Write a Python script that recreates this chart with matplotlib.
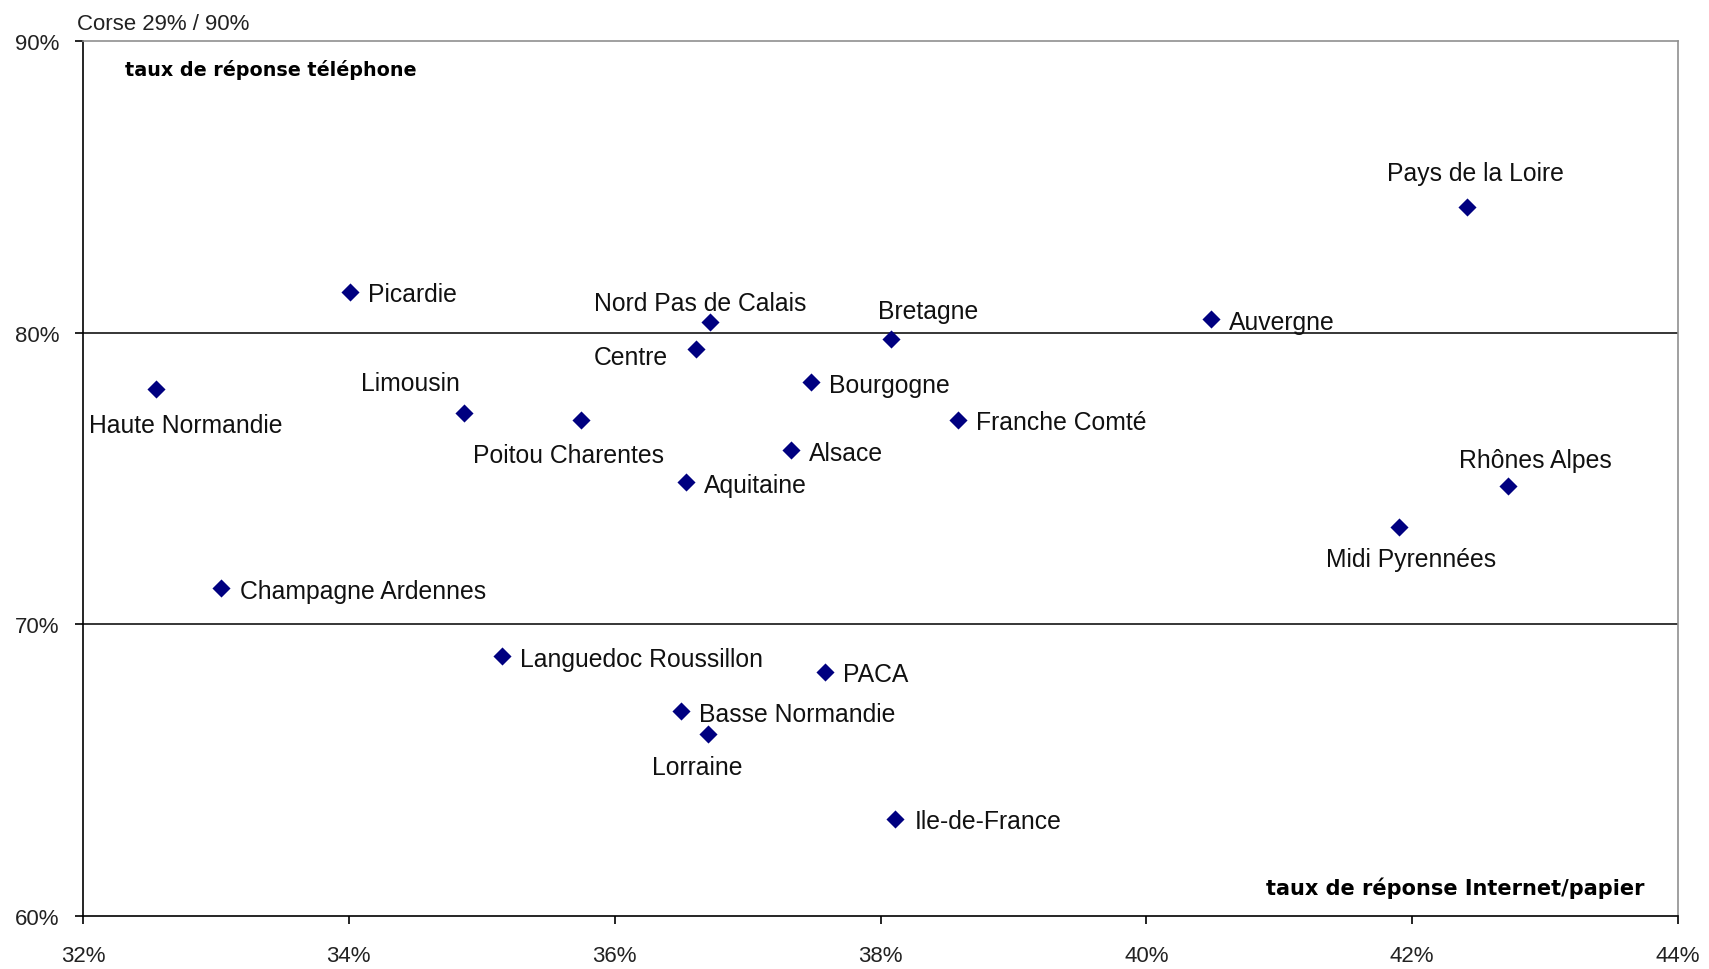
import matplotlib
matplotlib.use('Agg')
import matplotlib.pyplot as plt
from matplotlib.ticker import FuncFormatter

# taux de réponse par région (%)
regions = ['Pays de la Loire', 'Picardie', 'Nord Pas de Calais', 'Centre', 'Bretagne',
           'Bourgogne', 'Poitou Charentes', 'Franche Comté', 'Alsace', 'Aquitaine',
           'Auvergne', 'Haute Normandie', 'Limousin', 'Rhônes Alpes', 'Midi Pyrennées',
           'Champagne Ardennes', 'Languedoc Roussillon', 'PACA', 'Basse Normandie',
           'Lorraine', 'Ile-de-France']
internet = [42.41, 34.01, 36.72, 36.61, 38.08,
            37.48, 35.75, 38.58, 37.33, 36.54,
            40.49, 32.55, 34.87, 42.72, 41.90,
            33.04, 35.15, 37.58, 36.50,
            36.70, 38.11]
telephone = [84.32, 81.41, 80.36, 79.44, 79.78,
             78.30, 77.02, 77.02, 75.98, 74.87,
             80.47, 78.07, 77.25, 74.73, 73.35,
             71.23, 68.91, 68.38, 67.03,
             66.25, 63.34]

x_ticks = [32, 34, 36, 38, 40, 42, 44]
y_ticks = [60, 70, 80, 90]

# label placement in pixels: (dx, dy down, ha)
label_pos = [(9, -27, 'center'), (18, 9.6, 'left'), (-10, -12.6, 'center'), (-28, 15, 'right'),
             (37, -20.7, 'center'), (18, 9.6, 'left'), (-13, 42, 'center'), (18, 9.6, 'left'),
             (18, 9.6, 'left'), (18, 9.6, 'left'), (17, 9.6, 'left'), (-66.7, 43.3, 'left'),
             (-5, -23.3, 'right'), (28, -19.6, 'center'), (12, 39, 'center'),
             (19, 9.6, 'left'), (18, 9.6, 'left'), (18, 9.6, 'left'), (17.5, 9.6, 'left'),
             (-10, 40, 'center'), (19.5, 9.6, 'left')]

label_font = 'Liberation Sans'

fig = plt.figure(figsize=(17.09, 9.70), dpi=100)
ax = fig.add_axes([83 / 1709, 1 - 917 / 970, 1595 / 1709, 875 / 970])

ax.set_xlim(32, 44)
ax.set_ylim(60, 90)
ax.set_xticks(x_ticks)
ax.set_yticks(y_ticks)
pct = FuncFormatter(lambda v, p: f'{v:.0f}%')
ax.xaxis.set_major_formatter(pct)
ax.yaxis.set_major_formatter(pct)

for y in [70, 80]:
    ax.axhline(y, color='black', linewidth=1.1, zorder=1)

ax.scatter(internet, telephone, marker='D', s=85, color='#000080', zorder=3, linewidths=0)

for name, xv, yv, (dx, dy, ha) in zip(regions, internet, telephone, label_pos):
    ax.annotate(name, (xv, yv), xytext=(dx, -dy), textcoords='offset pixels',
                ha=ha, va='baseline', fontsize=17.8, family=label_font, color='#111111')

for side in ['top', 'right']:
    ax.spines[side].set_color('#909090')
    ax.spines[side].set_linewidth(1.2)
for side in ['left', 'bottom']:
    ax.spines[side].set_color('black')
    ax.spines[side].set_linewidth(1.2)

ax.tick_params(direction='out', length=6, width=1.2, color='black')
ax.tick_params(axis='x', pad=15, labelsize=16)
ax.tick_params(axis='y', pad=11, labelsize=16)
for lab in ax.get_xticklabels() + ax.get_yticklabels():
    lab.set_family(label_font)
    lab.set_color('#222222')

ax.text(0.0263, 0.961, 'taux de réponse téléphone', transform=ax.transAxes,
        ha='left', va='baseline', fontsize=13.8, fontweight='bold', family='DejaVu Sans')
ax.text(0.9793, 0.0251, 'taux de réponse Internet/papier', transform=ax.transAxes,
        ha='right', va='baseline', fontsize=15, fontweight='bold', family='DejaVu Sans')
fig.text(76.7 / 1709, 1 - 30 / 970, 'Corse 29% / 90%', ha='left', va='baseline',
         fontsize=16, family=label_font, color='#222222')

fig.savefig('out.png', dpi=100)
